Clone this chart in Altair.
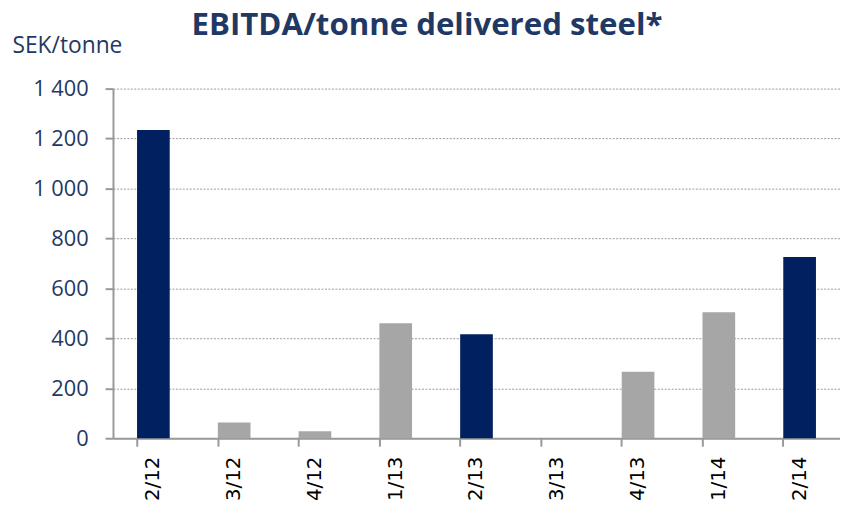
import altair as alt
import pandas as pd

quarters = ["2/12", "3/12", "4/12", "1/13", "2/13", "3/13", "4/13", "1/14", "2/14"]
values = [1234, 63, 28, 460, 416, 0, 266, 504, 726]
groups = ["Q2", "other", "other", "other", "Q2", "other", "other", "other", "Q2"]
title_text = ["EBITDA/tonne delivered steel*"]

df = pd.DataFrame({"quarter": quarters, "value": values, "group": groups})

NAVY = "#002060"
GRAY = "#A6A6A6"
TEXT = "#1F3864"

bars = alt.Chart(df).mark_bar(size=33).encode(
    x=alt.X("quarter:N", sort=quarters, title=None,
            scale=alt.Scale(paddingInner=0.6, paddingOuter=0.3),
            axis=alt.Axis(labelAngle=270, labelAlign="right", labelBaseline="middle",
                          labelFont="DejaVu Sans", labelFontSize=20, labelColor="#000000",
                          labelPadding=10, tickColor="#999999", tickSize=8, tickWidth=2,
                          domainColor="#999999", domainWidth=2, bandPosition=0, grid=False)),
    y=alt.Y("value:Q", title="SEK/tonne",
            scale=alt.Scale(domain=[0, 1400], nice=False),
            axis=alt.Axis(values=[0, 200, 400, 600, 800, 1000, 1200, 1400],
                          labelExpr="replace(format(datum.value, ','), ',', ' ')",
                          labelFont="Open Sans", labelFontSize=22, labelColor=TEXT,
                          labelPadding=17, tickColor="#999999", tickSize=8, tickWidth=2,
                          domainColor="#999999", domainWidth=2,
                          grid=True, gridColor="#9a9a9a", gridDash=[2, 1.5], gridWidth=1,
                          titleAngle=0, titleAlign="left", titleBaseline="middle",
                          titleX=-102, titleY=-43, titleFont="Open Sans", titleFontSize=23,
                          titleFontWeight="normal", titleColor=TEXT)),
    color=alt.Color("group:N", scale=alt.Scale(domain=["Q2", "other"], range=[NAVY, GRAY]),
                    legend=None),
)

title = alt.Chart(pd.DataFrame({"t": title_text})).mark_text(
    font="Open Sans", fontSize=31.5, fontWeight="bold", color=TEXT,
    align="center", baseline="alphabetic",
).encode(text="t:N", x=alt.value(317), y=alt.value(-54))

chart = alt.layer(bars, title).properties(
    width=734,
    height=353,
    autosize=alt.AutoSizeParams(type="none"),
    padding={"left": 106, "top": 79, "right": 0, "bottom": 63},
).configure_view(stroke=None)

chart.save("out.html", embed_options={"renderer": "svg", "actions": False})
